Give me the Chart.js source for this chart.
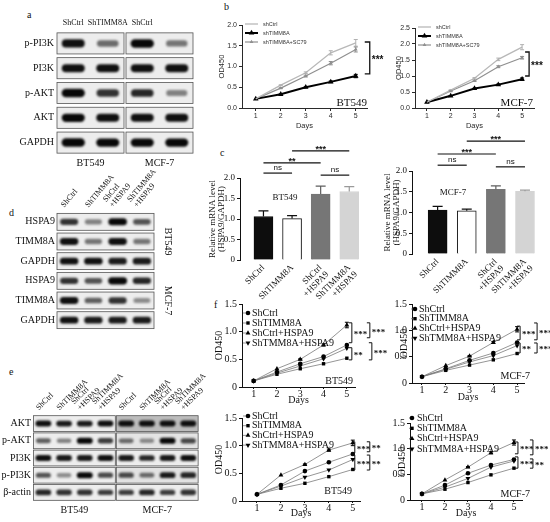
<!DOCTYPE html>
<html>
<head>
<meta charset="utf-8">
<title>TIMM8A / HSPA9 figure</title>
<script src="https://cdn.jsdelivr.net/npm/chart.js@4.4.1/dist/chart.umd.min.js"></script>
<style>
  html, body { margin: 0; padding: 0; background: #fff; }
  #fig { position: relative; width: 550px; height: 522px; overflow: hidden; }
  #fig canvas { position: absolute; }
  .tag { position: absolute; font: 10px "Liberation Serif", serif; color: #111; line-height: 10px; }
</style>
</head>
<body>
<div id="fig">
  <span class="tag" style="left:27px;top:10px">a</span>
  <span class="tag" style="left:224px;top:2px">b</span>
  <span class="tag" style="left:220px;top:148px">c</span>
  <span class="tag" style="left:9px;top:208px">d</span>
  <span class="tag" style="left:9px;top:367px">e</span>
  <span class="tag" style="left:214px;top:300px">f</span>
</div>
<script>
'use strict';

/** Data: b, CCK-8 with SC79 */
const days = [1, 2, 3, 4, 5];
const bLabels = ['shCtrl', 'shTIMM8A', 'shTIMM8A+SC79'];
const bBtCtrl = [0.22, 0.55, 0.85, 1.33, 1.57];
const bBtTimm = [0.22, 0.33, 0.50, 0.63, 0.77];
const bBtSc79 = [0.22, 0.48, 0.77, 1.08, 1.41];
const bBtCtrlErr = [0, 0.01, 0.02, 0.05, 0.08];
const bBtTimmErr = [0, 0.01, 0.01, 0.02, 0.04];
const bBtSc79Err = [0, 0.01, 0.02, 0.04, 0.06];
const bMcfCtrl = [0.18, 0.56, 0.93, 1.52, 1.90];
const bMcfTimm = [0.18, 0.38, 0.61, 0.73, 0.90];
const bMcfSc79 = [0.18, 0.53, 0.85, 1.29, 1.57];
const bMcfCtrlErr = [0, 0.01, 0.02, 0.04, 0.08];
const bMcfTimmErr = [0, 0.01, 0.01, 0.02, 0.04];
const bMcfSc79Err = [0, 0.01, 0.02, 0.03, 0.04];

/** Data: c, relative HSPA9 mRNA */
const cGroups = ['ShCtrl', 'ShTIMM8A', ['ShCtrl', '+HSPA9'], ['ShTIMM8A', '+HSPA9']];
const cBtMean = [1.06, 1.01, 1.61, 1.67];
const cBtErr = [0.14, 0.07, 0.19, 0.12];
const cMcfMean = [1.06, 1.04, 1.56, 1.51];
const cMcfErr = [0.09, 0.04, 0.08, 0.03];

/** Data: f, CCK-8 with HSPA9 */
const fLabels = ['ShCtrl', 'ShTIMM8A', 'ShCtrl+HSPA9', 'ShTMM8A+HSPA9'];
const fTopBtCtrl = [0.11, 0.27, 0.42, 0.55, 0.76];
const fTopBtTimm = [0.11, 0.23, 0.33, 0.42, 0.52];
const fTopBtHspa = [0.11, 0.33, 0.50, 0.76, 1.12];
const fTopBtBoth = [0.11, 0.25, 0.38, 0.51, 0.70];
const fTopMcfCtrl = [0.12, 0.27, 0.43, 0.57, 0.77];
const fTopMcfTimm = [0.12, 0.24, 0.34, 0.44, 0.56];
const fTopMcfHspa = [0.12, 0.33, 0.51, 0.77, 1.02];
const fTopMcfBoth = [0.12, 0.26, 0.40, 0.52, 0.71];
const fBotBtCtrl = [0.12, 0.29, 0.54, 0.70, 0.85];
const fBotBtTimm = [0.12, 0.23, 0.32, 0.44, 0.57];
const fBotBtHspa = [0.12, 0.47, 0.66, 0.92, 1.05];
const fBotBtBoth = [0.12, 0.27, 0.43, 0.56, 0.75];
const fBotMcfCtrl = [0.12, 0.29, 0.52, 0.68, 0.79];
const fBotMcfTimm = [0.12, 0.21, 0.34, 0.49, 0.62];
const fBotMcfHspa = [0.12, 0.39, 0.64, 0.92, 1.12];
const fBotMcfBoth = [0.12, 0.25, 0.42, 0.64, 0.76];
const fHspaErr = [0, 0, 0.01, 0.02, 0.05];

/** Data: western blots (band darkness 0..1, one row per antibody) */
const blotALanes = ['ShCtrl', 'ShTIMM8A', 'ShCtrl', ''];
const blotARows = ['p-PI3K', 'PI3K', 'p-AKT', 'AKT', 'GAPDH'];
const blotACells = ['BT549', 'MCF-7'];
const blotABands = [
  [0.85, 0.45, 0.95, 0.40],
  [0.85, 0.85, 0.85, 0.85],
  [0.95, 0.70, 0.75, 0.35],
  [0.90, 0.85, 0.85, 0.85],
  [0.95, 0.90, 0.90, 0.90]
];
const blotDLanes = ['ShCtrl', 'ShTIMM8A', ['ShCtrl', '+HSPA9'], ['ShTIMM8A', '+HSPA9']];
const blotDRows = ['HSPA9', 'TIMM8A', 'GAPDH', 'HSPA9', 'TIMM8A', 'GAPDH'];
const blotDCells = ['BT549', 'MCF-7'];
const blotDBands = [
  [0.70, 0.35, 0.90, 0.55],
  [0.85, 0.40, 0.85, 0.40],
  [0.85, 0.85, 0.80, 0.80],
  [0.70, 0.55, 1.00, 0.75],
  [0.85, 0.50, 0.70, 0.30],
  [0.85, 0.80, 0.80, 0.80]
];
const blotELanes = ['ShCtrl', 'ShTIMM8A', ['ShCtrl', '+HSPA9'], ['ShTIMM8A', '+HSPA9'],
  'ShCtrl', 'ShTIMM8A', ['ShCtrl', '+HSPA9'], ['ShTIMM8A', '+HSPA9']];
const blotERows = ['AKT', 'p-AKT', 'PI3K', 'p-PI3K', 'β-actin'];
const blotECells = ['BT549', 'MCF-7'];
const blotEBands = [
  [0.85, 0.80, 0.80, 0.85, 0.85, 0.85, 0.85, 0.85],
  [0.50, 0.35, 0.90, 0.65, 0.45, 0.30, 0.90, 0.60],
  [0.85, 0.80, 0.80, 0.85, 0.80, 0.75, 0.80, 0.85],
  [0.55, 0.30, 0.90, 0.60, 0.60, 0.45, 0.80, 0.75],
  [0.75, 0.70, 0.70, 0.65, 0.65, 0.75, 0.65, 0.70]
];

/** Look */
const SERIF = '"Liberation Serif", "Times New Roman", serif';
const SANS = '"Liberation Sans", Arial, sans-serif';
const INK = '#111';
Chart.defaults.font.family = SERIF;
Chart.defaults.color = INK;

const fig = document.getElementById('fig');

function mount(left, top, width, height) {
  const c = document.createElement('canvas');
  c.width = width;
  c.height = height;
  c.style.left = left + 'px';
  c.style.top = top + 'px';
  c.style.width = width + 'px';
  c.style.height = height + 'px';
  fig.appendChild(c);
  return c;
}

const fixW = w => s => { s.width = w; };
const fixH = h => s => { s.height = h; };

/** Plugins */
function errBarsPlugin(cfg) {
  return {
    id: 'errBars',
    afterDatasetsDraw(chart) {
      const ctx = chart.ctx;
      const ys = chart.scales.y;
      ctx.save();
      chart.data.datasets.forEach((ds, di) => {
        if (!ds.err) return;
        chart.getDatasetMeta(di).data.forEach((el, i) => {
          const e = ds.err[i];
          if (!e) return;
          const v = ds.data[i].y;
          const top = ys.getPixelForValue(v + e);
          const bot = cfg.upOnly ? el.y : ys.getPixelForValue(v - e);
          ctx.strokeStyle = Array.isArray(ds.errColor) ? ds.errColor[i] : ds.errColor;
          ctx.lineWidth = cfg.width || 1;
          ctx.beginPath();
          ctx.moveTo(el.x, bot);
          ctx.lineTo(el.x, top);
          ctx.moveTo(el.x - cfg.cap, top);
          ctx.lineTo(el.x + cfg.cap, top);
          if (!cfg.upOnly) {
            ctx.moveTo(el.x - cfg.cap, bot);
            ctx.lineTo(el.x + cfg.cap, bot);
          }
          ctx.stroke();
        });
      });
      ctx.restore();
    }
  };
}

// brackets, significance links and free text, placed in data units
function notesPlugin(n) {
  return {
    id: 'notes',
    afterDraw(chart) {
      const ctx = chart.ctx;
      const a = chart.chartArea;
      const xs = chart.scales.x;
      const ys = chart.scales.y;
      ctx.save();
      ctx.fillStyle = INK;
      ctx.strokeStyle = INK;
      (n.brackets || []).forEach(b => {
        const x = xs.getPixelForValue(b.at) + b.dx;
        const y1 = ys.getPixelForValue(b.from);
        const y2 = ys.getPixelForValue(b.to);
        ctx.lineWidth = n.bracketWidth || 1;
        ctx.beginPath();
        ctx.moveTo(x - n.arm, y1);
        ctx.lineTo(x, y1);
        ctx.lineTo(x, y2);
        ctx.lineTo(x - n.arm, y2);
        ctx.stroke();
        ctx.font = n.starFont;
        ctx.textAlign = 'left';
        ctx.textBaseline = 'middle';
        ctx.fillText(b.text, x + 2, (y1 + y2) / 2 + (n.starShift || 0));
      });
      (n.links || []).forEach(l => {
        const x1 = xs.getPixelForValue(l.from);
        const x2 = xs.getPixelForValue(l.to);
        const y = ys.getPixelForValue(l.y);
        ctx.lineWidth = 1.2;
        ctx.beginPath();
        ctx.moveTo(x1, y);
        ctx.lineTo(x2, y);
        ctx.stroke();
        const ns = l.text === 'ns';
        ctx.font = ns ? n.nsFont : n.starFont;
        ctx.textAlign = 'center';
        ctx.textBaseline = 'alphabetic';
        ctx.fillText(l.text, (x1 + x2) / 2, y - (ns ? 3 : -1));
      });
      (n.texts || []).forEach(t => {
        ctx.font = t.font;
        if (t.corner) {
          ctx.textAlign = 'right';
          ctx.textBaseline = 'alphabetic';
          ctx.fillText(t.text, a.right - t.dx, a.bottom - t.dy);
        } else {
          ctx.textAlign = 'center';
          ctx.textBaseline = 'middle';
          ctx.fillText(t.text, xs.getPixelForValue(t.x), ys.getPixelForValue(t.y));
        }
      });
      ctx.restore();
    }
  };
}

// legend drawn inside the plot, line sample + marker + text
function legendPlugin(g) {
  return {
    id: 'miniLegend',
    afterDraw(chart) {
      const ctx = chart.ctx;
      const a = chart.chartArea;
      ctx.save();
      chart.data.datasets.forEach((ds, i) => {
        const y = a.top + g.y + i * g.step;
        const x0 = a.left + g.x;
        ctx.strokeStyle = ds.borderColor;
        ctx.lineWidth = ds.borderWidth;
        ctx.beginPath();
        ctx.moveTo(x0, y);
        ctx.lineTo(x0 + g.len, y);
        ctx.stroke();
        if (ds.pointRadius > 0) {
          ctx.fillStyle = ds.pointBackgroundColor;
          Chart.helpers.drawPoint(ctx, {
            pointStyle: ds.pointStyle, rotation: ds.pointRotation || 0,
            radius: ds.pointRadius, borderWidth: 0
          }, x0 + g.markAt, y);
        }
        ctx.fillStyle = g.color || INK;
        ctx.font = g.font;
        ctx.textAlign = 'left';
        ctx.textBaseline = 'middle';
        ctx.fillText(ds.label, x0 + g.textAt, y);
      });
      ctx.restore();
    }
  };
}

/** Chart builders */
function lineChart(canvas, o) {
  const tickFont = {family: o.family, size: o.tickSize, lineHeight: 1};
  const titleFont = {family: o.family, size: o.titleSize, lineHeight: 1};
  return new Chart(canvas, {
    type: 'line',
    data: {
      datasets: o.series.map(s => ({
        label: s.label,
        data: days.map((d, i) => ({x: d, y: s.values[i]})),
        err: s.err,
        errColor: s.dot,
        borderColor: s.line,
        borderWidth: s.width,
        pointStyle: s.marker,
        pointRotation: s.rot || 0,
        pointRadius: s.r,
        pointBackgroundColor: s.dot,
        pointBorderColor: s.dot,
        pointBorderWidth: 0,
        tension: 0,
        fill: false,
        clip: false
      }))
    },
    options: {
      responsive: false,
      animation: false,
      events: [],
      layout: {padding: o.pad},
      plugins: {legend: {display: false}, tooltip: {enabled: false}},
      scales: {
        x: {
          type: 'linear', min: o.xMin, max: o.xMax,
          afterBuildTicks: s => { s.ticks = days.map(v => ({value: v})); },
          ticks: {font: tickFont, color: o.ink, padding: o.xPad, autoSkip: false},
          grid: {drawOnChartArea: false, color: o.ink, tickLength: o.tick},
          border: {color: o.ink},
          title: {display: true, text: 'Days', font: titleFont, color: o.ink, padding: 0},
          afterFit: fixH(o.xH)
        },
        y: {
          min: 0, max: o.yMax,
          ticks: {stepSize: 0.5, font: {family: o.family, size: o.tickSize}, color: o.ink, padding: 2,
            callback: v => (o.zeroPlain && v === 0) ? '0' : v.toFixed(1)},
          grid: {drawOnChartArea: false, color: o.ink, tickLength: 3},
          border: {color: o.ink},
          title: {display: true, text: 'OD450', font: titleFont, color: o.ink, padding: {top: o.titlePad, bottom: 0}},
          afterFit: fixW(o.yW)
        }
      }
    },
    plugins: [errBarsPlugin({cap: 2, upOnly: false}), legendPlugin(o.legend), notesPlugin(o.notes)]
  });
}

const cFill = ['#0d0d0d', '#ffffff', '#767676', '#d4d4d4'];
const cEdge = ['#0d0d0d', '#111111', '#767676', '#d4d4d4'];
const cErrInk = ['#0d0d0d', '#111111', '#5e5e5e', '#9a9a9a'];

function barChart(canvas, o) {
  return new Chart(canvas, {
    type: 'bar',
    data: {
      datasets: [{
        data: o.values.map((v, i) => ({x: i + 1, y: v})),
        err: o.err,
        errColor: cErrInk,
        backgroundColor: cFill,
        borderColor: cEdge,
        borderWidth: 1,
        barThickness: 19
      }]
    },
    options: {
      responsive: false,
      animation: false,
      events: [],
      layout: {padding: o.pad},
      plugins: {legend: {display: false}, tooltip: {enabled: false}},
      scales: {
        x: {
          type: 'linear', offset: false, min: o.xMin, max: o.xMax,
          afterBuildTicks: s => { s.ticks = cGroups.map((_, i) => ({value: i + 1})); },
          ticks: {callback: (v, i) => cGroups[i], font: {family: SERIF, size: 9, lineHeight: 1.05},
            color: INK, minRotation: 45, maxRotation: 45, padding: 3, autoSkip: false},
          grid: {display: false, drawTicks: false},
          border: {display: false},
          afterFit: fixH(o.xH)
        },
        y: {
          min: 0, max: 2,
          ticks: {stepSize: 0.5, callback: v => v === 0 ? '0' : v.toFixed(1), font: {family: SERIF, size: 9}, color: INK, padding: 2},
          grid: {drawOnChartArea: false, color: INK, tickLength: 3},
          border: {color: INK},
          title: {display: true, text: ['Relative mRNA level', '(HSPA9/GAPDH)'],
            font: {family: SERIF, size: 9, lineHeight: 1}, color: INK, padding: 0},
          afterFit: fixW(o.yW)
        }
      }
    },
    plugins: [errBarsPlugin({cap: 5, upOnly: true, width: 1.2}), notesPlugin(o.notes)]
  });
}

function blotChart(canvas, b) {
  const pts = [];
  b.bands.forEach((row, r) => row.forEach((v, l) => pts.push({x: l, y: r, v: v})));
  const laneMax = b.lanes.length - 0.5;
  const quiet = {grid: {display: false, drawTicks: false}, border: {display: false}};
  const scales = {
    x: Object.assign({
      type: 'linear', position: 'top', min: -0.5, max: laneMax,
      afterBuildTicks: s => { s.ticks = b.lanes.map((_, i) => ({value: i})); },
      ticks: {callback: (v, i) => b.lanes[i], font: {family: SERIF, size: b.headSize, lineHeight: 1.05},
        color: INK, minRotation: b.headRot, maxRotation: b.headRot, padding: b.headPad, autoSkip: false},
      afterFit: fixH(b.headH)
    }, quiet),
    y: Object.assign({
      type: 'linear', reverse: true, min: -0.5, max: b.rows.length - 0.5,
      afterBuildTicks: s => { s.ticks = b.rows.map((_, i) => ({value: i})); },
      ticks: {callback: (v, i) => b.rows[i], font: {family: SERIF, size: 10}, color: INK, padding: 2, autoSkip: false},
      afterFit: fixW(b.rowW)
    }, quiet)
  };
  if (b.cellsBelow) {
    scales.cell = Object.assign({
      type: 'linear', axis: 'x', position: 'bottom', min: -0.5, max: laneMax,
      afterBuildTicks: s => { s.ticks = b.groups.map(g => ({value: (g[0] + g[1]) / 2})); },
      ticks: {callback: (v, i) => b.cells[i], font: {family: SERIF, size: 10}, color: INK, padding: b.cellPad, autoSkip: false},
      afterFit: fixH(b.cellH)
    }, quiet);
  }

  const blotDraw = {
    id: 'blotDraw',
    beforeDatasetsDraw(chart) {
      const ctx = chart.ctx, xs = chart.scales.x, ys = chart.scales.y;
      const pitch = Math.abs(ys.getPixelForValue(1) - ys.getPixelForValue(0));
      ctx.save();
      b.rows.forEach((_, r) => {
        const yc = ys.getPixelForValue(r);
        const h = pitch * b.boxH;
        b.groups.forEach((g, gi) => {
          const x0 = xs.getPixelForValue(g[0] - 0.5) + b.gap;
          const x1 = xs.getPixelForValue(g[1] + 0.5) - b.gap;
          ctx.fillStyle = (b.shade && b.shade[r] && b.shade[r][gi]) || '#ededed';
          ctx.fillRect(x0, yc - h / 2, x1 - x0, h);
          ctx.strokeStyle = '#555';
          ctx.lineWidth = 0.8;
          ctx.strokeRect(x0, yc - h / 2, x1 - x0, h);
        });
      });
      ctx.restore();
    },
    afterDatasetsDraw(chart) {
      const ctx = chart.ctx, xs = chart.scales.x, ys = chart.scales.y;
      const pitch = Math.abs(ys.getPixelForValue(1) - ys.getPixelForValue(0));
      const lane = Math.abs(xs.getPixelForValue(1) - xs.getPixelForValue(0));
      ctx.save();
      ctx.filter = 'blur(' + b.blur + 'px)';
      chart.getDatasetMeta(0).data.forEach((el, i) => {
        const v = pts[i].v;
        const w = lane * b.bandW * (0.85 + 0.15 * v);
        const h = pitch * b.bandH * (0.6 + 0.5 * v);
        ctx.fillStyle = 'rgba(8,8,8,' + Math.min(1, 0.12 + v) + ')';
        ctx.beginPath();
        if (ctx.roundRect) ctx.roundRect(el.x - w / 2, el.y - h / 2, w, h, h / 2);
        else ctx.ellipse(el.x, el.y, w / 2, h / 2, 0, 0, Math.PI * 2);
        ctx.fill();
      });
      ctx.restore();
    },
    afterDraw(chart) {
      if (!b.sideRows) return;
      const ctx = chart.ctx, ys = chart.scales.y;
      ctx.save();
      ctx.font = '10px ' + SERIF;
      ctx.fillStyle = INK;
      ctx.textAlign = 'center';
      ctx.textBaseline = 'middle';
      b.sideRows.forEach((rr, i) => {
        const y = (ys.getPixelForValue(rr[0]) + ys.getPixelForValue(rr[1])) / 2;
        ctx.save();
        ctx.translate(chart.chartArea.right + b.sideDx, y);
        ctx.rotate(Math.PI / 2);
        ctx.fillText(b.cells[i], 0, 0);
        ctx.restore();
      });
      ctx.restore();
    }
  };

  return new Chart(canvas, {
    type: 'scatter',
    data: {datasets: [{data: pts, pointRadius: 0, pointHoverRadius: 0}]},
    options: {
      responsive: false,
      animation: false,
      events: [],
      layout: {padding: b.pad},
      plugins: {legend: {display: false}, tooltip: {enabled: false}},
      scales: scales
    },
    plugins: [blotDraw]
  });
}

/** a: blots */
blotChart(mount(0, 10, 200, 165), {
  lanes: blotALanes, rows: blotARows, cells: blotACells, bands: blotABands,
  groups: [[0, 1], [2, 3]], cellsBelow: true,
  headSize: 8, headRot: 0, headPad: 4, headH: 21, rowW: 56, cellH: 20, cellPad: 2,
  pad: {top: 0, right: 6, bottom: 0, left: 0},
  boxH: 0.85, gap: 1, bandW: 0.68, bandH: 0.32, blur: 1.1
});

/** d: blots */
blotChart(mount(0, 160, 185, 178), {
  lanes: blotDLanes, rows: blotDRows, cells: blotDCells, bands: blotDBands,
  groups: [[0, 3]], sideRows: [[0, 2], [3, 5]], sideDx: 14,
  headSize: 8, headRot: 50, headPad: 3, headH: 52, rowW: 57,
  pad: {top: 0, right: 31, bottom: 3, left: 0},
  boxH: 0.86, gap: 0, bandW: 0.78, bandH: 0.34, blur: 1
});

/** e: blots */
blotChart(mount(0, 368, 220, 154), {
  lanes: blotELanes, rows: blotERows, cells: blotECells, bands: blotEBands,
  groups: [[0, 3], [4, 7]], cellsBelow: true,
  headSize: 8, headRot: 45, headPad: 3, headH: 47, rowW: 33, cellH: 21, cellPad: 3,
  pad: {top: 0, right: 7, bottom: 0, left: 0},
  boxH: 0.92, gap: 0.5, bandW: 0.78, bandH: 0.34, blur: 1,
  shade: [[null, '#bcbcbc'], [null, '#e4e4e4'], null, [null, '#e2e2e2'], null]
});

/** b: CCK-8 curves */
const bLook = [
  {line: '#b8b8b8', width: 1.3, marker: 'circle', r: 0, dot: '#b0b0b0'},
  {line: '#000000', width: 2, marker: 'triangle', r: 3.2, dot: '#000000'},
  {line: '#8f8f8f', width: 1.2, marker: 'triangle', r: 2.2, dot: '#8f8f8f'}
];
function bSeries(vals, errs) {
  return vals.map((v, i) => Object.assign({label: bLabels[i], values: v, err: errs[i]}, bLook[i]));
}
const bCommon = {
  family: SANS, tickSize: 7, titleSize: 7.5, ink: '#2a2a2a', tick: 3, xPad: 2, xH: 22, titlePad: 0,
  zeroPlain: false,
  legend: {x: 3, y: -1, step: 9, len: 13, markAt: 6.5, textAt: 18, font: '5.5px ' + SANS, color: '#333'}
};
lineChart(mount(218, 15, 177, 115), Object.assign({}, bCommon, {
  series: bSeries([bBtCtrl, bBtTimm, bBtSc79], [bBtCtrlErr, bBtTimmErr, bBtSc79Err]),
  yMax: 2, xMin: 0.45, xMax: 5.45, yW: 24,
  pad: {top: 10, right: 28, bottom: 0, left: 0},
  notes: {
    arm: 5, bracketWidth: 1.3, starFont: 'bold 10px ' + SANS, starShift: 2,
    brackets: [{at: 5, dx: 14, from: 1.59, to: 0.82, text: '***'}],
    texts: [{corner: true, text: 'BT549', dx: 0, dy: 2, font: '11px ' + SERIF}]
  }
}));
lineChart(mount(395, 15, 155, 115), Object.assign({}, bCommon, {
  series: bSeries([bMcfCtrl, bMcfTimm, bMcfSc79], [bMcfCtrlErr, bMcfTimmErr, bMcfSc79Err]),
  yMax: 2.5, xMin: 0.5, xMax: 5.5, yW: 20,
  pad: {top: 13, right: 16, bottom: 0, left: 0},
  notes: {
    arm: 4, bracketWidth: 1.3, starFont: 'bold 10px ' + SANS, starShift: 2,
    brackets: [{at: 5, dx: 7, from: 1.75, to: 1.0, text: '***'}],
    texts: [{corner: true, text: 'MCF-7', dx: 1, dy: 2, font: '11px ' + SERIF}]
  }
}));

/** c: qPCR bars */
const cNoteFonts = {starFont: 'bold 9px ' + SANS, nsFont: '8px ' + SANS};
barChart(mount(208, 140, 165, 160), {
  values: cBtMean, err: cBtErr, xMin: 0.18, xMax: 4.55, yW: 32, xH: 40,
  pad: {top: 38, right: 8, bottom: 0, left: 0},
  notes: Object.assign({
    links: [
      {from: 1, to: 2, y: 2.12, text: 'ns'},
      {from: 3, to: 4, y: 2.07, text: 'ns'},
      {from: 1, to: 3, y: 2.37, text: '**'},
      {from: 2, to: 4, y: 2.66, text: '***'}
    ],
    texts: [{text: 'BT549', x: 1.75, y: 1.51, font: '9px ' + SERIF}]
  }, cNoteFonts)
});
barChart(mount(383, 130, 167, 170), {
  values: cMcfMean, err: cMcfErr, xMin: 0.12, xMax: 4.55, yW: 29, xH: 46,
  pad: {top: 41, right: 9, bottom: 0, left: 0},
  notes: Object.assign({
    links: [
      {from: 1, to: 2, y: 2.14, text: 'ns'},
      {from: 3, to: 4, y: 2.10, text: 'ns'},
      {from: 1, to: 3, y: 2.41, text: '***'},
      {from: 2, to: 4, y: 2.72, text: '***'}
    ],
    texts: [{text: 'MCF-7', x: 1.53, y: 1.49, font: '9px ' + SERIF}]
  }, cNoteFonts)
});

/** f: CCK-8 curves */
const fLook = [
  {marker: 'circle', r: 2.3},
  {marker: 'rect', r: 2.4},
  {marker: 'triangle', r: 2.8},
  {marker: 'triangle', r: 2.8, rot: 180}
];
function fSeries(vals) {
  return vals.map((v, i) => Object.assign({
    label: fLabels[i], values: v, err: i === 2 ? fHspaErr : null,
    line: '#7a7a7a', width: 0.8, dot: '#000000'
  }, fLook[i]));
}
const fCommon = {
  family: SERIF, tickSize: 10, titleSize: 10, ink: INK, tick: 2, xPad: 0, titlePad: 2,
  yMax: 1.5, zeroPlain: true
};
const fLegend = {x: 1, len: 4, markAt: 5, textAt: 9, font: '10px ' + SERIF};
const fNotes = {arm: 3, bracketWidth: 1, starFont: 'bold 9px ' + SERIF, starShift: 2};

lineChart(mount(212, 295, 178, 110), Object.assign({}, fCommon, {
  series: fSeries([fTopBtCtrl, fTopBtTimm, fTopBtHspa, fTopBtBoth]),
  xMin: 0.5, xMax: 5.35, yW: 30, xH: 18,
  pad: {top: 9, right: 35, bottom: 0, left: 0},
  legend: Object.assign({}, fLegend, {y: 9, step: 10}),
  notes: Object.assign({
    brackets: [
      {at: 5, dx: 5, from: 1.16, to: 0.80, text: '***'},
      {at: 5, dx: 5, from: 0.71, to: 0.49, text: '**'},
      {at: 5, dx: 23, from: 1.16, to: 0.89, text: '***'},
      {at: 5, dx: 25, from: 0.80, to: 0.49, text: '***'}
    ],
    texts: [{corner: true, text: 'BT549', dx: 2, dy: 3, font: '10px ' + SERIF}]
  }, fNotes)
}));
lineChart(mount(392, 295, 158, 107), Object.assign({}, fCommon, {
  series: fSeries([fTopMcfCtrl, fTopMcfTimm, fTopMcfHspa, fTopMcfBoth]),
  xMin: 0.58, xMax: 5.29, yW: 20, xH: 19, titlePad: 7,
  pad: {top: 9, right: 26, bottom: 0, left: 0},
  legend: Object.assign({}, fLegend, {x: -1, markAt: 4, textAt: 8, y: 5, step: 9.7}),
  notes: Object.assign({
    brackets: [
      {at: 5, dx: 3, from: 1.08, to: 0.82, text: '***'},
      {at: 5, dx: 3, from: 0.76, to: 0.57, text: '**'},
      {at: 5, dx: 20, from: 1.14, to: 0.82, text: '***'},
      {at: 5, dx: 20, from: 0.76, to: 0.57, text: '***'}
    ],
    texts: [{corner: true, text: 'MCF-7', dx: -6, dy: 4, font: '10px ' + SERIF}]
  }, fNotes)
}));
lineChart(mount(212, 408, 178, 110), Object.assign({}, fCommon, {
  series: fSeries([fBotBtCtrl, fBotBtTimm, fBotBtHspa, fBotBtBoth]),
  xMin: 0.375, xMax: 5.3, yW: 30, xH: 17,
  pad: {top: 10, right: 30, bottom: 0, left: 0},
  legend: Object.assign({}, fLegend, {y: -2, step: 9.7}),
  notes: Object.assign({
    brackets: [
      {at: 5, dx: 2, from: 1.07, to: 0.87, text: '***'},
      {at: 5, dx: 2, from: 0.83, to: 0.56, text: '***'},
      {at: 5, dx: 17, from: 1.07, to: 0.89, text: '**'},
      {at: 5, dx: 17, from: 0.83, to: 0.56, text: '**'}
    ],
    texts: [{corner: true, text: 'BT549', dx: 8, dy: 7, font: '10px ' + SERIF}]
  }, fNotes)
}));
lineChart(mount(388, 410, 162, 108), Object.assign({}, fCommon, {
  series: fSeries([fBotMcfCtrl, fBotMcfTimm, fBotMcfHspa, fBotMcfBoth]),
  xMin: 0.48, xMax: 5.35, yW: 22, xH: 18, titlePad: 9,
  pad: {top: 13, right: 28, bottom: 0, left: 0},
  legend: Object.assign({}, fLegend, {x: -1, markAt: 3, textAt: 8, y: -5, step: 10.3}),
  notes: Object.assign({
    brackets: [
      {at: 5, dx: 4, from: 1.13, to: 0.90, text: '***'},
      {at: 5, dx: 4, from: 0.84, to: 0.62, text: '***'},
      {at: 5, dx: 19, from: 1.17, to: 0.88, text: '***'},
      {at: 5, dx: 19, from: 0.80, to: 0.62, text: '**'}
    ],
    texts: [{corner: true, text: 'MCF-7', dx: -8, dy: 3, font: '10px ' + SERIF}]
  }, fNotes)
}));
</script>
</body>
</html>
